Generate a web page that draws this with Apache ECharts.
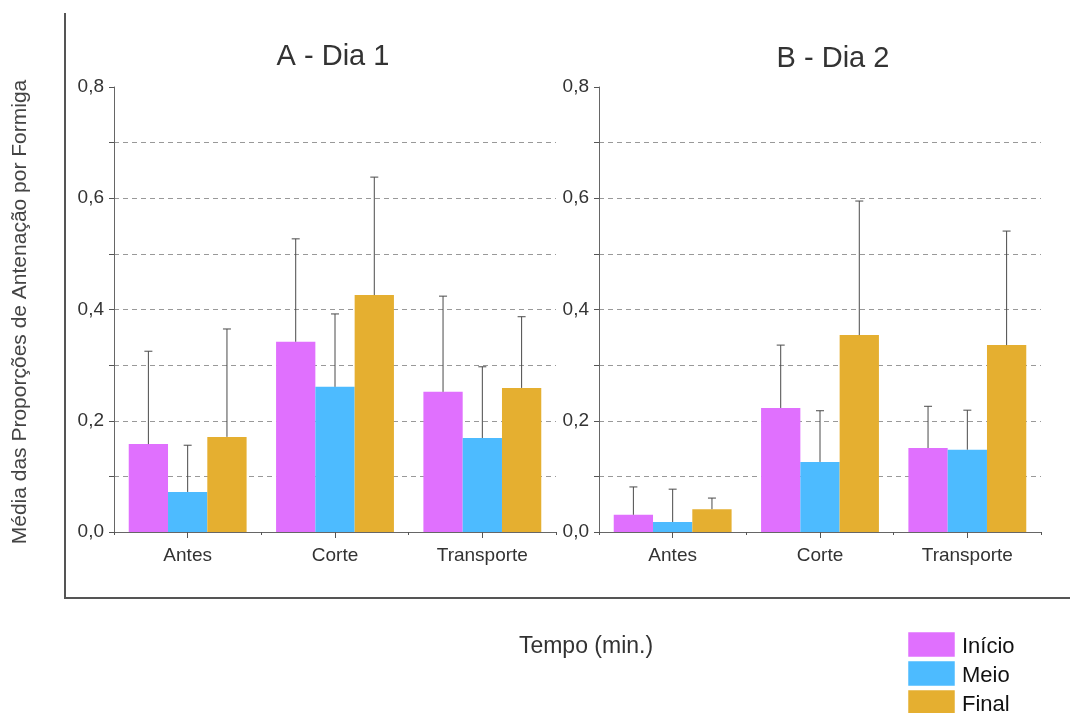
<!DOCTYPE html>
<html>
<head>
<meta charset="utf-8">
<script src="https://cdn.jsdelivr.net/npm/echarts@6/dist/echarts.min.js"></script>
<style>
html,body{margin:0;padding:0;background:#fff;}
#chart{width:1070px;height:713px;}
</style>
</head>
<body>
<div id="chart"></div>
<script>
// ---- data ----
const categories = ['Antes', 'Corte', 'Transporte'];
const seriesNames = ['Início', 'Meio', 'Final'];
const panelTitles = ['A - Dia 1', 'B - Dia 2'];

// Dia 1 means
const dia1Inicio = [0.158, 0.342, 0.252];
const dia1Meio   = [0.072, 0.261, 0.169];
const dia1Final  = [0.171, 0.426, 0.259];
// Dia 1 upper error-bar ends
const dia1InicioErr = [0.325, 0.527, 0.424];
const dia1MeioErr   = [0.156, 0.392, 0.297];
const dia1FinalErr  = [0.365, 0.638, 0.387];

// Dia 2 means
const dia2Inicio = [0.031, 0.223, 0.151];
const dia2Meio   = [0.018, 0.126, 0.148];
const dia2Final  = [0.041, 0.354, 0.336];
// Dia 2 upper error-bar ends
const dia2InicioErr = [0.081, 0.336, 0.226];
const dia2MeioErr   = [0.077, 0.218, 0.219];
const dia2FinalErr  = [0.061, 0.595, 0.541];

const colors = ['#E070FE', '#4DBBFF', '#E5AF30'];

const panels = [
  {means: [dia1Inicio, dia1Meio, dia1Final], errs: [dia1InicioErr, dia1MeioErr, dia1FinalErr]},
  {means: [dia2Inicio, dia2Meio, dia2Final], errs: [dia2InicioErr, dia2MeioErr, dia2FinalErr]}
];

const FONT = '"Liberation Sans", Arial, sans-serif';
const gridDefs = [
  {left: 114, width: 442, top: 87, height: 445},
  {left: 599, width: 442, top: 87, height: 445}
];
const titlePos = [[333, 57], [833, 59]];

const chart = echarts.init(document.getElementById('chart'));

const grid = gridDefs.map(g => ({left: g.left, width: g.width, top: g.top, height: g.height, containLabel: false}));
const xAxis = [];
const yAxis = [];
gridDefs.forEach((g, i) => {
  xAxis.push({
    type: 'category', gridIndex: i, data: categories,
    axisLine: {lineStyle: {color: '#666', width: 1}},
    axisTick: {show: true, alignWithLabel: true, length: 6, lineStyle: {color: '#555'}},
    axisLabel: {color: '#333', fontSize: 19, fontFamily: FONT, margin: 14}
  });
  xAxis.push({
    type: 'category', gridIndex: i, data: categories, position: 'bottom',
    axisLine: {show: false},
    axisTick: {show: true, length: 3, lineStyle: {color: '#555'}},
    axisLabel: {show: false}
  });
  yAxis.push({
    type: 'value', gridIndex: i, min: 0, max: 0.8, interval: 0.1,
    axisLine: {show: true, lineStyle: {color: '#666', width: 1}},
    axisTick: {show: true, length: 5, lineStyle: {color: '#555'}},
    axisLabel: {
      color: '#333', fontSize: 19, fontFamily: FONT, margin: 10,
      formatter: v => (Math.round(v * 10) % 2 === 0) ? v.toFixed(1).replace('.', ',') : ''
    },
    splitLine: {show: true, showMinLine: false, showMaxLine: false, lineStyle: {color: '#999', type: [5, 4], width: 1}}
  });
});

const series = [];
panels.forEach((p, pi) => {
  p.means.forEach((vals, si) => {
    series.push({
      name: seriesNames[si], type: 'bar',
      xAxisIndex: pi * 2, yAxisIndex: pi,
      data: vals, barGap: '0%', barCategoryGap: '20%',
      itemStyle: {color: colors[si]},
      z: 2
    });
  });
  p.means.forEach((vals, si) => {
    series.push({
      type: 'custom', xAxisIndex: pi * 2, yAxisIndex: pi, z: 3,
      data: vals.map((v, ci) => [ci, v, p.errs[si][ci]]),
      renderItem: (params, api) => {
        const ci = api.value(0);
        const base = api.coord([ci, api.value(1)]);
        const top = api.coord([ci, api.value(2)]);
        const band = api.size([1, 0])[0];
        const bw = band * 0.8 / 3;
        const x = base[0] + (si - 1) * bw;
        const style = {stroke: '#4a4a4a', lineWidth: 1};
        return {
          type: 'group',
          children: [
            {type: 'line', shape: {x1: x, y1: base[1], x2: x, y2: top[1]}, style: style},
            {type: 'line', shape: {x1: x - 4, y1: top[1], x2: x + 4, y2: top[1]}, style: style}
          ]
        };
      }
    });
  });
});

const graphic = [
  {type: 'line', shape: {x1: 65, y1: 13, x2: 65, y2: 598}, style: {stroke: '#555', lineWidth: 2}},
  {type: 'line', shape: {x1: 64, y1: 598, x2: 1070, y2: 598}, style: {stroke: '#555', lineWidth: 2}},
  {type: 'text', x: 20, y: 312, rotation: Math.PI / 2,
   style: {text: 'Média das Proporções de Antenação por Formiga', fontSize: 21, fill: '#444', fontFamily: FONT, textAlign: 'center', textVerticalAlign: 'middle'}},
  {type: 'text', x: 586, y: 647,
   style: {text: 'Tempo (min.)', fontSize: 23, fill: '#333', fontFamily: FONT, textAlign: 'center', textVerticalAlign: 'middle'}}
];
panelTitles.forEach((t, i) => {
  graphic.push({type: 'text', x: titlePos[i][0], y: titlePos[i][1],
    style: {text: t, fontSize: 29, fill: '#333', fontFamily: FONT, textAlign: 'center', textVerticalAlign: 'middle'}});
});
// legend
seriesNames.forEach((n, i) => {
  const y = 632 + i * 29;
  graphic.push({type: 'rect', shape: {x: 908, y: y, width: 47, height: 25}, style: {fill: colors[i], stroke: 'rgba(255,255,255,0.5)', lineWidth: 1}});
  graphic.push({type: 'text', x: 962, y: y + 15, style: {text: n, fontSize: 22, fill: '#111', fontFamily: FONT, textAlign: 'left', textVerticalAlign: 'middle'}});
});

const option = {
  backgroundColor: '#fff',
  animation: false,
  grid: grid,
  xAxis: xAxis,
  yAxis: yAxis,
  graphic: graphic,
  series: series
};
chart.setOption(option);
</script>
</body>
</html>
